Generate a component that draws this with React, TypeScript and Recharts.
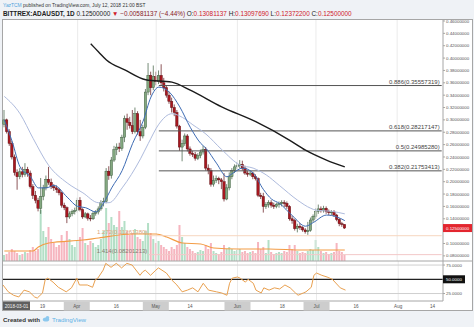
import React from "react";
import { ComposedChart, Bar, Line, XAxis, YAxis, ReferenceLine } from "recharts";

// days counted from 2018-03-01 (= day 0); first candle is Mar 4, last is Jul 12
const FIRST_DAY = 3;
const LAST_DAY = 170;

const opens = [
  0.293, 0.3, 0.281, 0.262, 0.24, 0.215, 0.208, 0.216, 0.212, 0.22,
  0.214, 0.192, 0.178, 0.17, 0.157, 0.176, 0.19, 0.204, 0.199, 0.192,
  0.19, 0.187, 0.182, 0.162, 0.158, 0.143, 0.148, 0.152, 0.153, 0.17,
  0.155, 0.143, 0.148, 0.141, 0.14, 0.149, 0.151, 0.156, 0.166, 0.168,
  0.217, 0.21, 0.235, 0.252, 0.256, 0.254, 0.272, 0.302, 0.296, 0.291,
  0.281, 0.31, 0.281, 0.274, 0.288, 0.345, 0.372, 0.352, 0.37, 0.362,
  0.372, 0.36, 0.352, 0.34, 0.33, 0.32, 0.312, 0.29, 0.256, 0.262,
  0.274, 0.253, 0.246, 0.244, 0.238, 0.242, 0.248, 0.252, 0.222, 0.218,
  0.196, 0.202, 0.205, 0.203, 0.2, 0.172, 0.19, 0.208, 0.218, 0.224,
  0.226, 0.228, 0.222, 0.214, 0.212, 0.214, 0.208, 0.205, 0.178, 0.176,
  0.16, 0.163, 0.166, 0.162, 0.16, 0.163, 0.165, 0.166, 0.165, 0.16,
  0.14, 0.137, 0.124, 0.128, 0.126, 0.122, 0.119, 0.121, 0.138, 0.144,
  0.152, 0.156, 0.154, 0.157, 0.152, 0.15, 0.151, 0.146, 0.139, 0.132,
  0.13081137,
];
const highs = [
  0.316, 0.302, 0.285, 0.266, 0.244, 0.22, 0.222, 0.224, 0.23, 0.224,
  0.218, 0.196, 0.185, 0.174, 0.206, 0.195, 0.21, 0.224, 0.205, 0.196,
  0.194, 0.19, 0.184, 0.166, 0.16, 0.152, 0.155, 0.158, 0.174, 0.175,
  0.157, 0.151, 0.15, 0.146, 0.152, 0.154, 0.16, 0.17, 0.174, 0.222,
  0.225, 0.24, 0.258, 0.262, 0.263, 0.276, 0.307, 0.31, 0.305, 0.316,
  0.32, 0.314, 0.3, 0.292, 0.35, 0.392, 0.378, 0.388, 0.378, 0.38,
  0.39, 0.368, 0.356, 0.346, 0.336, 0.325, 0.316, 0.292, 0.268, 0.278,
  0.277, 0.257, 0.25, 0.248, 0.246, 0.252, 0.258, 0.256, 0.228, 0.222,
  0.21, 0.21, 0.208, 0.206, 0.214, 0.196, 0.215, 0.222, 0.228, 0.232,
  0.235, 0.234, 0.226, 0.218, 0.218, 0.216, 0.212, 0.207, 0.182, 0.182,
  0.167, 0.17, 0.17, 0.166, 0.166, 0.168, 0.17, 0.17, 0.168, 0.162,
  0.145, 0.14, 0.132, 0.133, 0.128, 0.125, 0.135, 0.142, 0.147, 0.157,
  0.163, 0.16, 0.161, 0.16, 0.155, 0.154, 0.154, 0.148, 0.141, 0.135,
  0.1309769,
];
const lows = [
  0.288, 0.278, 0.258, 0.236, 0.21, 0.187, 0.204, 0.207, 0.208, 0.208,
  0.189, 0.172, 0.165, 0.152, 0.148, 0.17, 0.186, 0.195, 0.188, 0.185,
  0.182, 0.178, 0.158, 0.154, 0.133, 0.14, 0.144, 0.147, 0.15, 0.152,
  0.14, 0.141, 0.137, 0.136, 0.138, 0.145, 0.147, 0.153, 0.16, 0.165,
  0.203, 0.205, 0.232, 0.243, 0.248, 0.25, 0.264, 0.284, 0.286, 0.277,
  0.278, 0.276, 0.266, 0.27, 0.285, 0.34, 0.34, 0.348, 0.356, 0.358,
  0.355, 0.346, 0.336, 0.326, 0.312, 0.306, 0.286, 0.25, 0.233, 0.258,
  0.249, 0.242, 0.24, 0.234, 0.235, 0.238, 0.244, 0.218, 0.212, 0.192,
  0.192, 0.198, 0.196, 0.188, 0.168, 0.17, 0.186, 0.204, 0.214, 0.22,
  0.222, 0.218, 0.211, 0.208, 0.209, 0.204, 0.202, 0.175, 0.172, 0.15,
  0.156, 0.158, 0.158, 0.156, 0.157, 0.158, 0.16, 0.159, 0.156, 0.137,
  0.132, 0.121, 0.118, 0.122, 0.119, 0.116, 0.114, 0.119, 0.134, 0.14,
  0.148, 0.15, 0.15, 0.148, 0.146, 0.146, 0.143, 0.136, 0.128, 0.127,
  0.123722,
];
const closes = [
  0.3, 0.281, 0.262, 0.24, 0.215, 0.208, 0.216, 0.212, 0.22, 0.214,
  0.192, 0.178, 0.17, 0.157, 0.176, 0.19, 0.204, 0.199, 0.192, 0.19,
  0.187, 0.182, 0.162, 0.158, 0.143, 0.148, 0.152, 0.153, 0.17, 0.155,
  0.143, 0.148, 0.141, 0.14, 0.149, 0.151, 0.156, 0.166, 0.168, 0.217,
  0.21, 0.235, 0.252, 0.256, 0.254, 0.272, 0.302, 0.296, 0.291, 0.281,
  0.31, 0.281, 0.274, 0.288, 0.345, 0.372, 0.352, 0.37, 0.362, 0.372,
  0.36, 0.352, 0.34, 0.33, 0.32, 0.312, 0.29, 0.256, 0.262, 0.274,
  0.253, 0.246, 0.244, 0.238, 0.242, 0.248, 0.252, 0.222, 0.218, 0.196,
  0.202, 0.205, 0.203, 0.2, 0.172, 0.19, 0.208, 0.218, 0.224, 0.226,
  0.228, 0.222, 0.214, 0.212, 0.214, 0.208, 0.205, 0.178, 0.176, 0.16,
  0.163, 0.166, 0.162, 0.16, 0.163, 0.165, 0.166, 0.165, 0.16, 0.14,
  0.137, 0.124, 0.128, 0.126, 0.122, 0.119, 0.121, 0.138, 0.144, 0.152,
  0.156, 0.154, 0.157, 0.152, 0.15, 0.151, 0.146, 0.139, 0.132, 0.13081137,
  0.125,
];
// volume, millions of ADA
const volumes = [
  6, 7, 9, 12, 10, 8, 6, 7, 9, 8,
  11, 14, 10, 12, 51, 30, 24, 34, 22, 18,
  14, 16, 26, 20, 30, 22, 16, 14, 20, 24,
  33, 18, 16, 20, 18, 14, 16, 22, 30, 53,
  38, 44, 36, 34, 50, 34, 40, 30, 26, 28,
  32, 24, 22, 20, 30, 38, 28, 22, 18, 20,
  16, 14, 12, 10, 14, 12, 16, 36, 24, 18,
  14, 12, 10, 8, 9, 11, 10, 16, 12, 18,
  10, 8, 7, 9, 16, 12, 14, 12, 10, 11,
  12, 9, 10, 8, 9, 10, 8, 19, 12, 14,
  8, 21, 9, 7, 8, 9, 8, 10, 9, 16,
  12, 16, 10, 8, 9, 8, 10, 12, 11, 21,
  14, 10, 8, 9, 7, 8, 9, 18, 10, 9,
  6,
];

// indicator lines as [day, value]
const fastMa = [
  [3, 0.3], [6, 0.265], [9, 0.224], [13, 0.208], [16, 0.19], [19, 0.19], [22, 0.194],
  [27, 0.175], [31, 0.16], [34, 0.158], [38, 0.151], [41, 0.166], [44, 0.19], [48, 0.218],
  [52, 0.262], [56, 0.298], [59, 0.337], [62, 0.353], [66, 0.345], [70, 0.321], [74, 0.288],
  [78, 0.262], [80, 0.254], [84, 0.23], [88, 0.208], [90, 0.213], [94, 0.222], [98, 0.214],
  [102, 0.187], [105, 0.172], [108, 0.165], [113, 0.145], [118, 0.128], [121, 0.134],
  [126, 0.146], [130, 0.143], [133, 0.137],
];
const slowMa = [
  [3, 0.338], [9, 0.31], [14, 0.27], [20, 0.226], [27, 0.198], [33, 0.182], [39, 0.166],
  [43, 0.166], [48, 0.19], [55, 0.237], [58, 0.262], [62, 0.293], [67, 0.31], [71, 0.304],
  [75, 0.292], [80, 0.277], [86, 0.252], [93, 0.227], [98, 0.222], [103, 0.211], [108, 0.194],
  [115, 0.17], [120, 0.157], [122, 0.154], [128, 0.152], [133, 0.148],
];
const ma200 = [
  [36, 0.423], [39, 0.41], [42, 0.397], [49, 0.381], [57, 0.365], [67, 0.361], [74, 0.348],
  [86, 0.321], [99, 0.297], [112, 0.267], [118, 0.251], [126, 0.235], [133, 0.224],
];
const volMa = [
  [3, 10], [14, 10], [16, 14], [20, 18], [33, 21], [39, 23], [52, 27], [61, 27], [65, 24],
  [71, 18], [78, 17], [83, 13], [92, 12], [104, 12], [117, 11], [133, 11],
];
const rsi = [
  [3, 40], [5, 28], [7, 22], [9, 19], [11, 31], [13, 28], [15, 19], [16, 17], [18, 26],
  [19, 49], [20, 52], [22, 45], [24, 36], [27, 28], [29, 35], [31, 52], [32, 40], [35, 40],
  [37, 36], [38, 49], [39, 52], [41, 66], [42, 78], [44, 71], [46, 78], [48, 70], [50, 78],
  [52, 75], [55, 57], [56, 63], [57, 66], [59, 57], [61, 66], [62, 70], [65, 61], [67, 49],
  [69, 40], [71, 28], [73, 31], [75, 35], [77, 28], [79, 43], [81, 31], [84, 28], [86, 26],
  [88, 22], [89, 43], [90, 52], [92, 54], [93, 52], [95, 45], [96, 50], [98, 43], [99, 31],
  [101, 26], [102, 35], [104, 31], [106, 35], [108, 33], [110, 40], [112, 35], [114, 26],
  [115, 22], [117, 26], [118, 28], [120, 36], [121, 57], [122, 61], [124, 57], [126, 54],
  [128, 50], [130, 40], [131, 35], [133, 31],
];

const fibLevels = [
  { y: 0.35557319, label: "0.886(0.35557319)" },
  { y: 0.28217147, label: "0.618(0.28217147)" },
  { y: 0.2498528, label: "0.5(0.24985280)" },
  { y: 0.21753413, label: "0.382(0.21753413)" },
];
const extLevels = [
  { y: 0.1126138, label: "1.272(0.11261380)", line: "#f6d6bf", text: "#d9a57c" },
  { y: 0.08201213, label: "1.414(0.08201213)", line: "#f3c9c9", text: "#8b7b70" },
];

const priceTicks = [
  0.08, 0.1, 0.125, 0.14, 0.16, 0.18, 0.2, 0.22, 0.24, 0.26, 0.28, 0.3, 0.32, 0.34, 0.36,
  0.38, 0.4, 0.42, 0.44, 0.46,
];
const lastPrice = 0.125;
const tickDays = [18, 31, 46, 61, 74, 92, 109, 122, 137, 153, 166];
const tickLabels = ["19", "Apr", "16", "May", "14", "Jun", "18", "Jul", "16", "Aug", "14"];
const boxedTicks = ["Apr", "May", "Jun", "Jul"];
const monthDays = [31, 61, 92, 122, 153];

const FONT = "'Liberation Sans', Arial, sans-serif";

const toMap = (pts: number[][]) => new Map(pts.map(([d, v]) => [d, v]));
const fastMap = toMap(fastMa);
const slowMap = toMap(slowMa);
const ma200Map = toMap(ma200);
const volMaMap = toMap(volMa);
const rsiMap = toMap(rsi);

const rows = [];
for (let d = FIRST_DAY; d <= LAST_DAY; d++) {
  const i = d - FIRST_DAY;
  const has = i < closes.length;
  rows.push({
    d,
    o: has ? opens[i] : null,
    h: has ? highs[i] : null,
    l: has ? lows[i] : null,
    c: has ? closes[i] : null,
    v: has ? volumes[i] : null,
    fast: fastMap.get(d) ?? null,
    slow: slowMap.get(d) ?? null,
    ma200: ma200Map.get(d) ?? null,
    vma: volMaMap.get(d) ?? null,
    rsi: rsiMap.get(d) ?? null,
  });
}

const candleRange = (r: any) => (r.h == null ? null : [r.l, r.h]);

function Candle(props: any) {
  const { x, y, width, height, payload } = props;
  if (!payload || payload.h == null) return null;
  const { o, h, l, c } = payload;
  const top = Math.min(y, y + height);
  const span = Math.abs(height);
  const k = h > l ? span / (h - l) : 0;
  const yo = top + (h - o) * k;
  const yc = top + (h - c) * k;
  const up = c >= o;
  const edge = up ? "#3b5a3c" : "#5c0e13";
  const cx = x + width / 2;
  return (
    <g>
      <line x1={cx} x2={cx} y1={top} y2={top + span} stroke={edge} strokeWidth={0.7} />
      <rect
        x={x - 0.2}
        y={Math.min(yo, yc)}
        width={width + 0.4}
        height={Math.max(Math.abs(yc - yo), 0.8)}
        fill={up ? "#84a880" : "#a8171f"}
        stroke={edge}
        strokeWidth={0.45}
      />
    </g>
  );
}

function VolumeBar(props: any) {
  const { x, y, width, height, payload } = props;
  if (!payload || payload.v == null) return null;
  const up = payload.c >= payload.o;
  return <rect x={x} y={y} width={width} height={height} fill={up ? "#b3dfc6" : "#f6b5bf"} />;
}

function PriceTick(props: any) {
  const { x, y, payload } = props;
  const v = payload.value;
  if (v === lastPrice) {
    return (
      <g>
        <rect x={x - 3} y={y - 4} width={29} height={8} fill="#e3262f" />
        <text x={x} y={y + 1.6} fontSize={4.4} fill="#fff" fontFamily={FONT}>
          {v.toFixed(8)}
        </text>
      </g>
    );
  }
  return (
    <text x={x} y={y + 1.6} fontSize={4.4} fill="#555" fontFamily={FONT}>
      {v.toFixed(8)}
    </text>
  );
}

function RsiTick(props: any) {
  const { x, y, payload } = props;
  const v = payload.value;
  if (v === 50) {
    return (
      <g>
        <rect x={x - 3} y={y - 4} width={22} height={8} fill="#111" />
        <text x={x} y={y + 1.6} fontSize={4.4} fill="#fff" fontFamily={FONT}>
          {v.toFixed(4)}
        </text>
      </g>
    );
  }
  return (
    <text x={x} y={y + 1.6} fontSize={4.4} fill="#555" fontFamily={FONT}>
      {v.toFixed(4)}
    </text>
  );
}

function DateTick(props: any) {
  const { x, y, payload } = props;
  const label = tickLabels[tickDays.indexOf(payload.value)];
  if (label == null) return null;
  const boxed = boxedTicks.includes(label);
  return (
    <g>
      {boxed && <rect x={x - 13} y={y + 1} width={26} height={8.5} fill="#cdcdcd" />}
      <text x={x} y={y + 6.8} fontSize={4.6} fill="#555" textAnchor="middle" fontFamily={FONT}>
        {label}
      </text>
    </g>
  );
}

const fibLabel = (text: string) => (props: any) => {
  const vb = props.viewBox || {};
  return (
    <text x={vb.x + vb.width - 2} y={vb.y - 1.5} fontSize={6} fill="#444" textAnchor="end" fontFamily={FONT}>
      {text}
    </text>
  );
};

const extLabel = (text: string, color: string) => (props: any) => {
  const vb = props.viewBox || {};
  return (
    <text x={vb.x - 1} y={vb.y - 1.5} fontSize={6} fill={color} textAnchor="end" fontFamily={FONT}>
      {text}
    </text>
  );
};

export default function App() {
  return (
    <div style={{ position: "absolute", left: 0, top: 0, width: 474, height: 327, background: "#eff2f6", overflow: "hidden" }}>
      <div
        style={{
          position: "absolute",
          left: 2,
          top: 19,
          width: 471,
          height: 292,
          boxSizing: "border-box",
          background: "#fff",
          border: "1px solid #a6a6a6",
        }}
      />
      <div style={{ position: "absolute", left: 0, top: 0 }}>
        <ComposedChart width={474} height={262} data={rows} margin={{ top: 20, right: 0, bottom: 1, left: 3 }}>
          <XAxis dataKey="d" type="category" hide />
          <XAxis xAxisId="vx" dataKey="d" type="category" hide />
          <YAxis
            orientation="right"
            type="number"
            width={31}
            domain={[0.0717, 0.4616]}
            allowDataOverflow
            ticks={priceTicks}
            interval={0}
            tick={(p: any) => <PriceTick {...p} />}
            tickSize={2}
            tickMargin={1}
            axisLine={{ stroke: "#a6a6a6" }}
            tickLine={{ stroke: "#a6a6a6" }}
          />
          <YAxis yAxisId="vol" hide domain={[0, 241]} allowDataOverflow />
          {monthDays.map((d) => (
            <ReferenceLine key={d} x={d} stroke="#ebebeb" />
          ))}
          <Bar xAxisId="vx" yAxisId="vol" dataKey="v" barSize={2} shape={(p: any) => <VolumeBar {...p} />} isAnimationActive={false} />
          <Line yAxisId="vol" dataKey="vma" type="monotone" stroke="#f39c45" strokeWidth={1.2} dot={false} connectNulls isAnimationActive={false} />
          {extLevels.map((f) => (
            <ReferenceLine
              key={f.label}
              segment={[{ x: 58, y: f.y }, { x: LAST_DAY, y: f.y }]}
              stroke={f.line}
              label={extLabel(f.label, f.text)}
            />
          ))}
          {fibLevels.map((f) => (
            <ReferenceLine
              key={f.label}
              segment={[{ x: 62, y: f.y }, { x: LAST_DAY, y: f.y }]}
              stroke="#555"
              label={fibLabel(f.label)}
            />
          ))}
          <Bar dataKey={candleRange} barSize={2} shape={(p: any) => <Candle {...p} />} isAnimationActive={false} />
          <Line dataKey="slow" type="monotone" stroke="#aebbdd" strokeWidth={1} dot={false} connectNulls isAnimationActive={false} />
          <Line dataKey="fast" type="monotone" stroke="#3e6cb4" strokeWidth={1} dot={false} connectNulls isAnimationActive={false} />
          <Line dataKey="ma200" type="monotone" stroke="#1b1b1b" strokeWidth={1.4} dot={false} connectNulls isAnimationActive={false} />
        </ComposedChart>
      </div>
      <div style={{ position: "absolute", left: 0, top: 261 }}>
        <ComposedChart width={474} height={50} data={rows} margin={{ top: 0, right: 0, bottom: 0, left: 3 }}>
          <XAxis
            dataKey="d"
            type="category"
            height={10}
            ticks={tickDays}
            interval={0}
            tick={(p: any) => <DateTick {...p} />}
            tickSize={0}
            tickMargin={0}
            axisLine={{ stroke: "#a6a6a6" }}
            tickLine={false}
          />
          <YAxis
            orientation="right"
            type="number"
            width={31}
            domain={[11.9, 82.1]}
            allowDataOverflow
            ticks={[25, 50, 75]}
            interval={0}
            tick={(p: any) => <RsiTick {...p} />}
            tickSize={2}
            tickMargin={1}
            axisLine={{ stroke: "#a6a6a6" }}
            tickLine={{ stroke: "#a6a6a6" }}
          />
          {monthDays.map((d) => (
            <ReferenceLine key={d} x={d} stroke="#ebebeb" />
          ))}
          <ReferenceLine y={75} stroke="#cfcfcf" />
          <ReferenceLine y={25} stroke="#cfcfcf" />
          <ReferenceLine y={50} stroke="#222" strokeWidth={1.3} />
          <Line dataKey="rsi" type="linear" stroke="#e9a04f" strokeWidth={1} dot={false} connectNulls isAnimationActive={false} />
        </ComposedChart>
      </div>
      <svg width={474} height={327} style={{ position: "absolute", left: 0, top: 0, pointerEvents: "none" }}>
        <line x1={3} x2={472} y1={261} y2={261} stroke="#a6a6a6" />
        <text x={3} y={6.5} fontSize={4.9} fill="#333" fontFamily={FONT}>
          <tspan fill="#4ea2dc">YazTCM</tspan> published on TradingView.com, July 12, 2018 21:00 BST
        </text>
        <text x={3} y={15.5} fontSize={6.4} fill="#222" fontFamily={FONT}>
          <tspan fontWeight="bold">BITTREX:ADAUSDT, 1D</tspan> 0.12500000 <tspan fill="#d0202a">▼</tspan>{" "}
          <tspan fill="#8a1a1f">−0.00581137 (−4.44%)</tspan> O:<tspan fill="#d0202a">0.13081137</tspan> H:
          <tspan fill="#d0202a">0.13097690</tspan> L:<tspan fill="#d0202a">0.12372200</tspan> C:
          <tspan fill="#d0202a">0.12500000</tspan>
        </text>
        <rect x={3} y={301.5} width={27} height={8.5} fill="#5f5f5f" />
        <text x={16.5} y={307.5} fontSize={4.6} fill="#f2f2f2" textAnchor="middle" fontFamily={FONT}>
          2018-03-01
        </text>
        <text x={3} y={321.5} fontSize={6.2} fill="#333" fontWeight="bold" fontFamily={FONT}>
          Created with
        </text>
        <g fill="#8cc8ee">
          <ellipse cx={46} cy={319.5} rx={3.2} ry={2} />
          <circle cx={47.5} cy={317.8} r={1.8} />
        </g>
        <text x={52} y={321.5} fontSize={6.2} fill="#5cb1e6" fontFamily={FONT}>
          TradingView
        </text>
      </svg>
    </div>
  );
}
